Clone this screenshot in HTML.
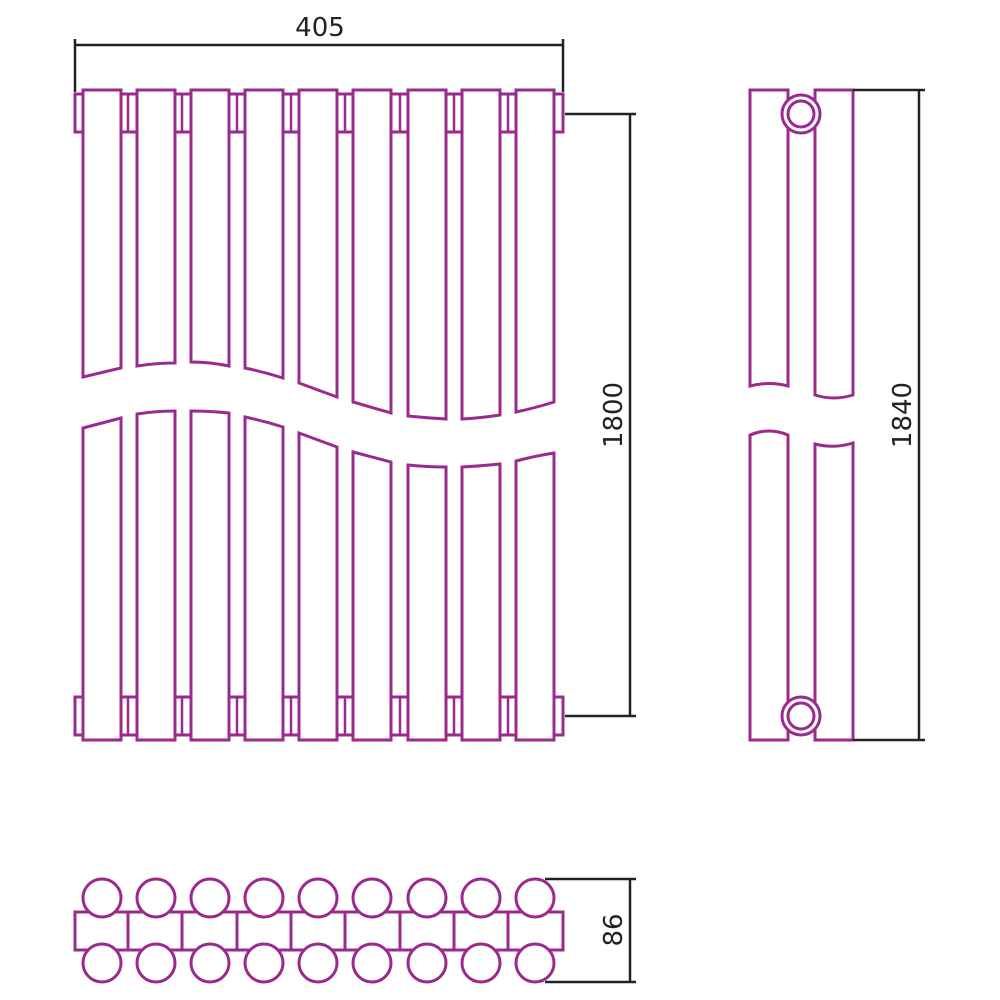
<!DOCTYPE html>
<html><head><meta charset="utf-8"><style>
html,body{margin:0;padding:0;background:#fff;width:1000px;height:1000px;overflow:hidden}
svg{display:block}
</style></head><body>
<svg width="1000" height="1000" viewBox="0 0 1000 1000" xmlns="http://www.w3.org/2000/svg">
<g fill="#fff" stroke="#9b2a8e" stroke-width="3">
<!-- collectors front -->
<rect x="75" y="94" width="488" height="38"/>
<rect x="75" y="697" width="488" height="38"/>
<g id="c"></g>
</g>
<g stroke="#9b2a8e" stroke-width="2.5" fill="none">
<line x1="128" y1="94" x2="128" y2="132"/><line x1="182" y1="94" x2="182" y2="132"/><line x1="237" y1="94" x2="237" y2="132"/><line x1="291" y1="94" x2="291" y2="132"/><line x1="345" y1="94" x2="345" y2="132"/><line x1="400" y1="94" x2="400" y2="132"/><line x1="454" y1="94" x2="454" y2="132"/><line x1="508" y1="94" x2="508" y2="132"/>
<line x1="128" y1="697" x2="128" y2="735"/><line x1="182" y1="697" x2="182" y2="735"/><line x1="237" y1="697" x2="237" y2="735"/><line x1="291" y1="697" x2="291" y2="735"/><line x1="345" y1="697" x2="345" y2="735"/><line x1="400" y1="697" x2="400" y2="735"/><line x1="454" y1="697" x2="454" y2="735"/><line x1="508" y1="697" x2="508" y2="735"/>
</g>
<g fill="#fff" stroke="#9b2a8e" stroke-width="3" stroke-linejoin="miter">
<!-- upper tubes -->
<path d="M83 90H121V368L83 377Z"/>
<path d="M137 90H175V363Q156 363 137 366Z"/>
<path d="M191 90H229V366Q210 362 191 362Z"/>
<path d="M245 90H283V378Q264 372 245 368Z"/>
<path d="M299 90H337V397L299 383Z"/>
<path d="M353 90H391V413L353 402Z"/>
<path d="M408 90H446V419Q427 418 408 416Z"/>
<path d="M462 90H500V415Q481 418 462 419Z"/>
<path d="M516 90H554V402Q535 408 516 412Z"/>
<!-- lower tubes -->
<path d="M83 428L121 418V740H83Z"/>
<path d="M137 414Q156 411 175 411V740H137Z"/>
<path d="M191 411Q210 411 229 413V740H191Z"/>
<path d="M245 417Q264 421 283 427V740H245Z"/>
<path d="M299 433L337 447V740H299Z"/>
<path d="M353 452L391 462V740H353Z"/>
<path d="M408 465Q427 467 446 467V740H408Z"/>
<path d="M462 467Q481 466 500 464V740H462Z"/>
<path d="M516 461Q535 456 554 453V740H516Z"/>
<!-- side view -->
<path d="M750 90H788V386Q769 381 750 386Z"/>
<path d="M815 90H853V395Q834 401 815 395Z"/>
<path d="M750 435Q769 427 788 435V740H750Z"/>
<path d="M815 444Q834 449 853 443V740H815Z"/>
<circle cx="801" cy="114" r="19"/><circle cx="801" cy="114" r="13"/>
<circle cx="801" cy="716" r="19"/><circle cx="801" cy="716" r="13"/>
<!-- bottom view -->
<rect x="75" y="912" width="488" height="38"/>
<line x1="128" y1="912" x2="128" y2="950"/><line x1="182" y1="912" x2="182" y2="950"/><line x1="237" y1="912" x2="237" y2="950"/><line x1="291" y1="912" x2="291" y2="950"/><line x1="345" y1="912" x2="345" y2="950"/><line x1="400" y1="912" x2="400" y2="950"/><line x1="454" y1="912" x2="454" y2="950"/><line x1="508" y1="912" x2="508" y2="950"/>
<circle cx="102" cy="898" r="19"/><circle cx="156" cy="898" r="19"/><circle cx="210" cy="898" r="19"/><circle cx="264" cy="898" r="19"/><circle cx="318" cy="898" r="19"/><circle cx="372" cy="898" r="19"/><circle cx="427" cy="898" r="19"/><circle cx="481" cy="898" r="19"/><circle cx="535" cy="898" r="19"/>
<circle cx="102" cy="963" r="19"/><circle cx="156" cy="963" r="19"/><circle cx="210" cy="963" r="19"/><circle cx="264" cy="963" r="19"/><circle cx="318" cy="963" r="19"/><circle cx="372" cy="963" r="19"/><circle cx="427" cy="963" r="19"/><circle cx="481" cy="963" r="19"/><circle cx="535" cy="963" r="19"/>
</g>
<!-- dimensions -->
<g stroke="#222" stroke-width="2.5" fill="none">
<line x1="75" y1="45" x2="563" y2="45"/>
<line x1="75" y1="39" x2="75" y2="92"/><line x1="563" y1="39" x2="563" y2="92"/>
<line x1="565" y1="114" x2="636" y2="114"/><line x1="565" y1="716" x2="636" y2="716"/>
<line x1="630" y1="114" x2="630" y2="716"/>
<line x1="853" y1="90" x2="925" y2="90"/><line x1="853" y1="740" x2="925" y2="740"/>
<line x1="919" y1="90" x2="919" y2="740"/>
<line x1="545" y1="879" x2="636" y2="879"/><line x1="545" y1="982" x2="636" y2="982"/>
<line x1="630" y1="879" x2="630" y2="982"/>
</g>
<g fill="#222" font-family="'DejaVu Sans','Liberation Sans',sans-serif" font-size="26" text-anchor="middle">
<text x="320" y="36" transform="scale(1,1)">405</text>
<text transform="translate(622,415) rotate(-90)">1800</text>
<text transform="translate(911,415) rotate(-90)">1840</text>
<text transform="translate(622,930) rotate(-90)">86</text>
</g>
</svg>
</body></html>
